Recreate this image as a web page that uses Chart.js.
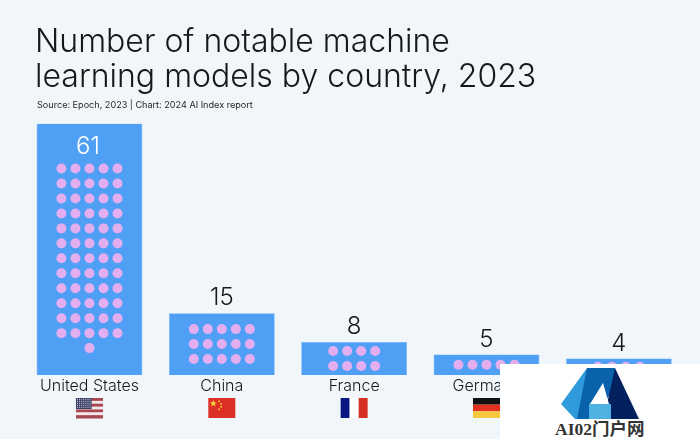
<!DOCTYPE html>
<html>
<head>
<meta charset="utf-8">
<script src="https://cdn.jsdelivr.net/npm/chart.js@4"></script>
<style>
  html, body { margin: 0; padding: 0; background: #f1f6fb; }
  #page { position: relative; width: 700px; height: 439px; overflow: hidden; }
  #chart { position: absolute; left: 0; top: 0; }
  h1 { position: absolute; left: 35px; top: 23px; margin: 0; font: 300 32px/35px Inter, sans-serif; color: #15181c; white-space: nowrap; }
  #source { position: absolute; left: 37px; top: 99px; font: 400 9.1px/12px Inter, sans-serif; color: #23272c; }
  #mark { position: absolute; left: 500px; top: 364px; width: 200px; height: 75px; background: #fff; }
  #mark svg { position: absolute; left: 61px; top: 2px; }
  #mark span { position: absolute; left: 55px; top: 55px; font: 700 17.5px/20px "Liberation Serif", "Noto Sans CJK SC", serif; color: #333; white-space: nowrap; }
</style>
</head>
<body>
<div id="page">
  <canvas id="chart" width="700" height="439"></canvas>
  <h1>Number of notable machine<br>learning models by country, 2023</h1>
  <div id="source">Source: Epoch, 2023 | Chart: 2024 AI Index report</div>
  <div id="mark">
    <svg width="80" height="54" viewBox="0 0 80 54">
      <polygon points="0,38 26,2 34,2 34,20 16,53 14,53" fill="#2f9bdc"/>
      <polygon points="26,2 54,2 54,20 34,53 16,53" fill="#0a62ad"/>
      <polygon points="54,2 78,53 40,53 40,38 46,38" fill="#03205f"/>
      <polygon points="29,38 42,17 48,38" fill="#fff"/>
      <rect x="28" y="38" width="22" height="15" fill="#4fb0e2"/>
    </svg>
    <span>AI02门户网</span>
  </div>
</div>
<script>
// values, the last country label is hidden by the watermark
const countries = ["United States", "China", "France", "Germany", ""];
const models = [61, 15, 8, 5, 4];
const dotsPerRow = [5, 5, 4, 5, 4];
const flags = ["us", "cn", "fr", "de", null];

const barColor = "#4f9ff5";
const dotColor = "#e3aef0";
const rowStep = 3.63;    // y units between dot rows
const colStep = 0.106;   // category units between dot columns
const insideFrom = 30;   // bars this tall carry their label inside

function buildDots() {
    const dots = [];
    models.forEach((count, i) => {
        const perRow = dotsPerRow[i];
        const rows = Math.ceil(count / perRow);
        let mid = count / 2;
        if (count >= insideFrom) mid -= 2.2;
        for (let n = 0; n < count; n++) {
            const row = Math.floor(n / perRow);
            const inRow = Math.min(perRow, count - row * perRow);
            const col = n - row * perRow;
            dots.push({
                x: i + (col - (inRow - 1) / 2) * colStep,
                y: mid + ((rows - 1) / 2 - row) * rowStep
            });
        }
    });
    return dots;
}

function drawFlag(ctx, kind, cx, top) {
    const w = 27, h = 20, x = cx - w / 2;
    if (kind === "us") {
        for (let i = 0; i < 7; i++) {
            ctx.fillStyle = i % 2 ? "#f2e9ea" : "#a8474f";
            ctx.fillRect(x, top + i * h / 7, w, h / 7 + 0.5);
        }
        ctx.fillStyle = "#3c3f66";
        ctx.fillRect(x, top, w * 0.58, h * 0.55);
        ctx.fillStyle = "#d8d9e6";
        for (let r = 0; r < 5; r++) {
            for (let c = 0; c < 7; c++) {
                ctx.fillRect(x + 1 + c * 2.1, top + 0.8 + r * 2, 1, 1);
            }
        }
    } else if (kind === "cn") {
        ctx.fillStyle = "#dc2f26";
        ctx.fillRect(x, top, w, h);
        ctx.fillStyle = "#f5d33c";
        ctx.beginPath();
        for (let i = 0; i < 10; i++) {
            const a = -Math.PI / 2 + i * Math.PI / 5;
            const r = i % 2 ? 1.5 : 3.6;
            ctx.lineTo(x + 5 + r * Math.cos(a), top + 5.5 + r * Math.sin(a));
        }
        ctx.fill();
        [[10, 2.5], [12, 5], [12, 8], [10, 10.5]].forEach(p => {
            ctx.fillRect(x + p[0], top + p[1], 1.6, 1.6);
        });
    } else if (kind === "fr") {
        ctx.fillStyle = "#0a1580";
        ctx.fillRect(x, top, w / 3, h);
        ctx.fillStyle = "#ffffff";
        ctx.fillRect(x + w / 3, top, w / 3, h);
        ctx.fillStyle = "#d62f25";
        ctx.fillRect(x + 2 * w / 3, top, w / 3, h);
    } else if (kind === "de") {
        ctx.fillStyle = "#111111";
        ctx.fillRect(x, top, w, h / 3);
        ctx.fillStyle = "#e3311f";
        ctx.fillRect(x, top + h / 3, w, h / 3);
        ctx.fillStyle = "#f5c83d";
        ctx.fillRect(x, top + 2 * h / 3, w, h / 3);
    }
}

const valueLabels = {
    id: "valueLabels",
    afterDatasetsDraw(chart) {
        const ctx = chart.ctx;
        const meta = chart.getDatasetMeta(1);
        ctx.save();
        ctx.font = "300 24px Inter, sans-serif";
        ctx.textAlign = "center";
        meta.data.forEach((bar, i) => {
            const inside = models[i] >= insideFrom;
            ctx.fillStyle = inside ? "#ffffff" : "#15181c";
            ctx.textBaseline = "middle";
            ctx.fillText(models[i], inside ? bar.x - 1.5 : bar.x, inside ? bar.y + 23 : bar.y - 15);
        });
        ctx.restore();
    }
};

const flagRow = {
    id: "flagRow",
    afterDraw(chart) {
        const scale = chart.scales.x;
        flags.forEach((kind, i) => {
            if (kind) drawFlag(chart.ctx, kind, scale.getPixelForTick(i), 398);
        });
    }
};

new Chart(document.getElementById("chart"), {
    data: {
        labels: countries,
        datasets: [{
            type: "scatter",
            data: buildDots(),
            xAxisID: "xDots",
            yAxisID: "y",
            order: 1,
            pointRadius: 5,
            pointBorderWidth: 0,
            backgroundColor: dotColor
        }, {
            type: "bar",
            data: models,
            xAxisID: "x",
            yAxisID: "y",
            order: 2,
            grouped: false,
            backgroundColor: barColor,
            borderColor: "#6fb4f7",
            borderWidth: 0.6,
            barPercentage: 0.8,
            categoryPercentage: 1
        }]
    },
    options: {
        responsive: false,
        animation: false,
        layout: { padding: { left: 23.3, right: 15, top: 123.5, bottom: 0 } },
        plugins: { legend: { display: false }, tooltip: { enabled: false } },
        scales: {
            x: {
                grid: { display: false, drawTicks: false },
                border: { display: false },
                afterFit(scale) { scale.height = 64; },
                ticks: {
                    color: "#15181c",
                    padding: 2,
                    maxRotation: 0,
                    autoSkip: false,
                    font: { family: "Inter, sans-serif", size: 16, weight: "300" }
                }
            },
            xDots: { type: "linear", display: false, min: -0.5, max: 4.5 },
            y: { display: false, min: 0, max: 61 }
        }
    },
    plugins: [valueLabels, flagRow]
});
</script>
</body>
</html>
